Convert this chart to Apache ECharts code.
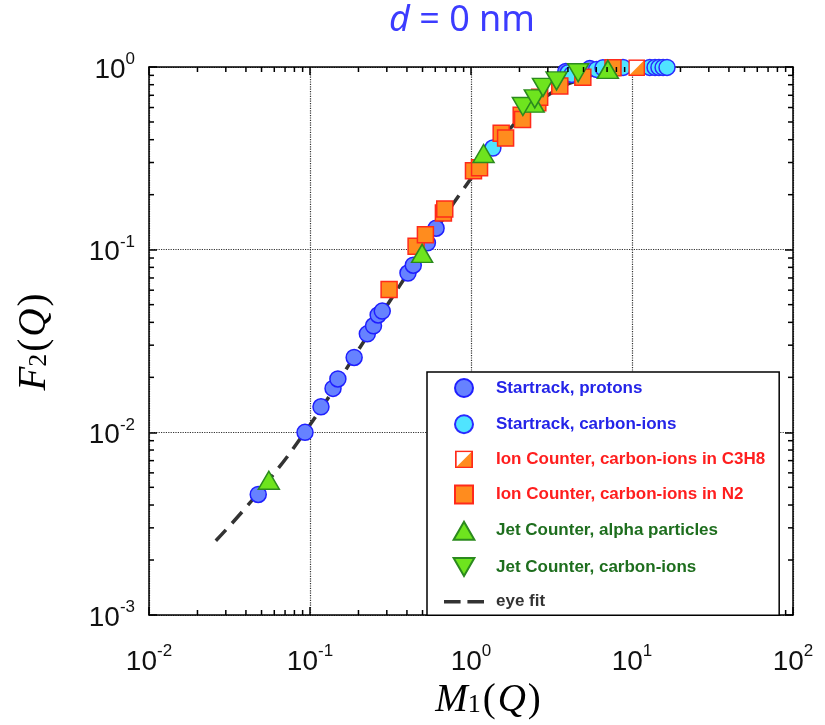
<!DOCTYPE html>
<html lang="en">
<head>
<meta charset="UTF-8">
<title>F2(Q) vs M1(Q)</title>
<style>
    html, body { margin: 0; padding: 0; background: #fff; }
    #chart { width: 825px; height: 725px; }
</style>
</head>
<body>
<div id="chart"></div>
<script src="https://cdn.jsdelivr.net/npm/echarts@6/dist/echarts.min.js"></script>
<script>
    // values
    var protonsX = [0.0477, 0.0931, 0.117, 0.139, 0.149, 0.188, 0.227, 0.248, 0.265, 0.281, 0.406, 0.438, 0.536, 0.607, 3.88, 5.47];
    var protonsY = [0.00457, 0.0100, 0.0138, 0.0174, 0.0196, 0.0257, 0.0346, 0.0383, 0.0439, 0.0461, 0.0745, 0.0822, 0.109, 0.131, 0.946, 0.98];

    var carbonStX = [1.367, 4.01, 4.23, 6.03, 6.6, 8.79, 12.9, 13.9, 14.7, 15.6, 16.5];
    var carbonStY = [0.36, 0.93, 0.91, 0.97, 0.99, 0.995, 0.995, 0.995, 0.995, 0.995, 0.995];

    var c3h8X = [10.7];
    var c3h8Y = [0.99];

    var n2X = [0.310, 0.456, 0.521, 0.674, 0.687, 1.036, 1.13, 1.54, 1.64, 2.05, 2.09, 2.6, 2.67, 3.56, 4.95, 7.62];
    var n2Y = [0.0606, 0.1044, 0.1207, 0.159, 0.167, 0.27, 0.281, 0.434, 0.408, 0.544, 0.516, 0.637, 0.683, 0.788, 0.878, 0.99];

    var alphaX = [0.0555, 0.497, 1.197, 2.45, 7.08];
    var alphaY = [0.00547, 0.0954, 0.336, 0.634, 0.97];

    var jetCX = [2.10, 2.49, 2.80, 3.40, 4.63];
    var jetCY = [0.608, 0.669, 0.773, 0.839, 0.93];

    var fitX = [0.026, 0.05, 0.1, 0.2, 0.4, 0.7, 0.9, 1.3, 2, 3, 5, 8, 12, 19.5];
    var fitY = [0.00255, 0.0049, 0.011, 0.0283, 0.0731, 0.156, 0.215, 0.335, 0.52, 0.70, 0.87, 0.96, 0.99, 1.0];

    var names = [
        'Startrack, protons',
        'Startrack, carbon-ions',
        'Ion Counter, carbon-ions in C3H8',
        'Ion Counter, carbon-ions in N2',
        'Jet Counter, alpha particles',
        'Jet Counter, carbon-ions',
        'eye fit'
    ];

    function pairs(xs, ys) {
        return xs.map(function (x, i) { return [x, ys[i]]; });
    }

    // half filled square for the C3H8 points
    var halfSvg = "<svg xmlns='http://www.w3.org/2000/svg' width='32' height='32'>" +
        "<rect x='1.5' y='1.5' width='29' height='29' fill='#ffffff'/>" +
        "<polygon points='30.5,1.5 30.5,30.5 1.5,30.5' fill='#ff8c1e'/>" +
        "<rect x='1.5' y='1.5' width='29' height='29' fill='none' stroke='#ff2a1a' stroke-width='3'/></svg>";
    var halfSymbol = 'image://data:image/svg+xml;charset=utf-8,' + encodeURIComponent(halfSvg);

    // legend icons that keep their shape inside the wide legend slot
    var iconSquare = 'path://M0,0H10V10H0Z';
    var iconUp = 'path://M6,0L12,10.4L0,10.4Z';
    var iconDown = 'path://M0,0L12,0L6,10.4Z';
    var iconDash = 'path://M0,0H17V3.5H0Z M24,0H41V3.5H24Z';

    // minor log ticks (2..9 x 10^k) for the frame
    var minorTicks = [];
    for (var k = -2; k <= 1; k++) {
        for (var m = 2; m <= 9; m++) minorTicks.push([m * Math.pow(10, k), 0.5, 0]);
    }
    for (var k2 = -3; k2 <= -1; k2++) {
        for (var m2 = 2; m2 <= 9; m2++) minorTicks.push([0.5, m2 * Math.pow(10, k2), 1]);
    }

    function renderMinor(params, api) {
        var cs = params.coordSys;
        var len = 5;
        var st = { stroke: '#000', lineWidth: 1.5 };
        if (api.value(2) === 0) {
            var px = api.coord([api.value(0), 0.5])[0];
            return { type: 'group', children: [
                { type: 'line', shape: { x1: px, y1: cs.y + cs.height, x2: px, y2: cs.y + cs.height - len }, style: st },
                { type: 'line', shape: { x1: px, y1: cs.y, x2: px, y2: cs.y + len }, style: st }
            ] };
        }
        var py = api.coord([0.5, api.value(1)])[1];
        return { type: 'group', children: [
            { type: 'line', shape: { x1: cs.x, y1: py, x2: cs.x + len, y2: py }, style: st },
            { type: 'line', shape: { x1: cs.x + cs.width, y1: py, x2: cs.x + cs.width - len, y2: py }, style: st }
        ] };
    }

    var powRich = {
        b: { fontFamily: 'Liberation Sans', fontSize: 28, color: '#111', padding: [6, 0, 0, 0] },
        s: { fontFamily: 'Liberation Sans', fontSize: 17, color: '#111', padding: [0, 0, 15, 0] }
    };
    function powLabel(v) {
        return '{b|10}{s|' + Math.round(Math.log10(v)) + '}';
    }

    var nameRich = {
        i: { fontFamily: 'Liberation Serif', fontStyle: 'italic', fontSize: 39, color: '#000', padding: [0, 0, 9, 0] },
        p: { fontFamily: 'Liberation Serif', fontSize: 39, color: '#000', padding: [0, 2, 9, 2] },
        sub: { fontFamily: 'Liberation Serif', fontSize: 26, color: '#000' }
    };

    var frameLine = { show: true, lineStyle: { color: '#000', width: 1.5 } };
    var majorTick = { show: true, inside: true, length: 8, lineStyle: { color: '#000', width: 1.5 } };
    var gridLine = { show: true, lineStyle: { color: '#333', type: 'dotted', width: 1.2 } };

    var mChart = echarts.init(document.getElementById('chart'));

    var option = {
        animation: false,
        backgroundColor: '#fff',
        graphic: [{
            type: 'text',
            left: 389, top: 3,
            style: {
                text: '{i|d}{n| = 0 nm}',
                rich: {
                    i: { fontFamily: 'Noto Sans', fontStyle: 'italic', fontSize: 36, fill: '#3c3cff' },
                    n: { fontFamily: 'Noto Sans', fontSize: 36, fill: '#3c3cff' }
                }
            }
        }],
        grid: { left: 149, right: 32, top: 67, bottom: 100 },
        legend: {
            orient: 'vertical',
            left: 427, top: 372,
            backgroundColor: '#fff',
            borderColor: '#000',
            borderWidth: 1.5,
            padding: [6, 14, 5, 17],
            itemWidth: 40, itemHeight: 18, itemGap: 16.2,
            symbolKeepAspect: true,
            textStyle: { fontFamily: 'Liberation Sans', fontSize: 17, fontWeight: 'bold', padding: [0, 0, 0, 7] },
            data: [
                { name: names[0], textStyle: { color: '#2424e8' } },
                { name: names[1], textStyle: { color: '#2424e8' } },
                { name: names[2], textStyle: { color: '#ff1e1e' } },
                { name: names[3], icon: iconSquare, textStyle: { color: '#ff1e1e' } },
                { name: names[4], icon: iconUp, textStyle: { color: '#1e6e1e' } },
                { name: names[5], icon: iconDown, textStyle: { color: '#1e6e1e' } },
                { name: names[6], icon: iconDash, textStyle: { color: '#333' } }
            ]
        },
        xAxis: [{
            type: 'log', min: 0.01, max: 100, position: 'bottom',
            axisLine: frameLine, axisTick: majorTick, splitLine: gridLine,
            axisLabel: { margin: 27, formatter: powLabel, rich: powRich },
            name: '{i|M}{sub|1}{p|(}{i|Q}{p|)}',
            nameLocation: 'middle', nameGap: 66,
            nameTextStyle: { rich: nameRich, padding: [0, 0, 0, 36] }
        }, {
            type: 'log', min: 0.01, max: 100, position: 'top',
            axisLine: frameLine, axisTick: majorTick, axisLabel: { show: false }, splitLine: { show: false }
        }],
        yAxis: [{
            type: 'log', min: 0.001, max: 1, position: 'left',
            axisLine: frameLine, axisTick: majorTick, splitLine: gridLine,
            axisLabel: { margin: 14, formatter: powLabel, rich: powRich },
            name: '{i|F}{sub|2}{p|(}{i|Q}{p|)}',
            nameLocation: 'middle', nameGap: 86,
            nameTextStyle: { rich: nameRich }
        }, {
            type: 'log', min: 0.001, max: 1, position: 'right',
            axisLine: frameLine, axisTick: majorTick, axisLabel: { show: false }, splitLine: { show: false }
        }],
        series: [
            {
                type: 'custom', silent: true, clip: false, z: 3,
                xAxisIndex: 0, yAxisIndex: 0,
                data: minorTicks, renderItem: renderMinor
            },
            {
                name: names[6], type: 'line', smooth: true, symbol: 'none',
                data: pairs(fitX, fitY),
                lineStyle: { color: '#333', width: 3.5, type: [15, 9] },
                itemStyle: { color: '#333' }, z: 2
            },
            {
                name: names[0], type: 'scatter', symbol: 'circle', symbolSize: 16,
                data: pairs(protonsX, protonsY),
                itemStyle: { color: '#6682ff', borderColor: '#1f1fff', borderWidth: 1.5, opacity: 1 }
            },
            {
                name: names[1], type: 'scatter', symbol: 'circle', symbolSize: 16,
                data: pairs(carbonStX, carbonStY),
                itemStyle: { color: '#50e4ff', borderColor: '#2a2aff', borderWidth: 1.5, opacity: 1 }
            },
            {
                name: names[3], type: 'scatter', symbol: 'rect', symbolSize: 16,
                data: pairs(n2X, n2Y),
                itemStyle: { color: '#ff8c1e', borderColor: '#ff2a1a', borderWidth: 1.5, opacity: 1 }
            },
            {
                name: names[2], type: 'scatter', symbol: halfSymbol, symbolSize: 17,
                data: pairs(c3h8X, c3h8Y),
                itemStyle: { color: '#ff8c1e', opacity: 1 }
            },
            {
                name: names[4], type: 'scatter', symbol: 'triangle', symbolSize: [21, 18],
                data: pairs(alphaX, alphaY),
                itemStyle: { color: '#6ee41e', borderColor: '#2b8a1e', borderWidth: 1.5, opacity: 1 }
            },
            {
                name: names[5], type: 'scatter', symbol: 'triangle', symbolRotate: 180, symbolSize: [21, 18],
                data: pairs(jetCX, jetCY),
                itemStyle: { color: '#6ee41e', borderColor: '#2b8a1e', borderWidth: 1.5, opacity: 1 }
            }
        ]
    };

    mChart.setOption(option);
</script>
</body>
</html>
